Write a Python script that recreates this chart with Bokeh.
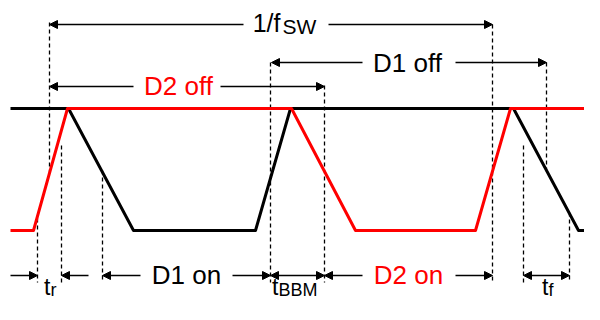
from bokeh.plotting import figure
from bokeh.models import Range1d, Arrow, NormalHead
from bokeh.core.properties import value
from bokeh.embed import file_html
from bokeh.resources import INLINE

# ---------------- data ----------------
# switch-node waveforms: vertices as (time, logic level); 1 = high, 0 = low
d2_t = [10, 33, 67, 291, 355, 475, 510, 600]
d2_v = [0, 0, 1, 1, 0, 0, 1, 1]
d1_t = [10, 68, 133, 255, 290, 513, 578, 600]
d1_v = [1, 1, 0, 0, 1, 1, 0, 0]

# timing marker instants
marker_t = [37, 49, 61, 102, 270, 324, 492, 523, 546, 569]

# labelled spans: (label, start, end)
span_label = ["1/f", "D2 off", "D1 off", "D1 on", "D2 on"]
span_start = [49, 49, 271, 102, 324]
span_end = [492, 324, 546, 270, 492]

# short intervals: rise time, break-before-make, fall time
tr_t = [37, 61]
tbbm_t = [270, 324]
tf_t = [523, 569]

# ---------------- layout helpers ----------------
HI_PX, LO_PX = 108, 230


def lvl(py):
    return (LO_PX - py) / (LO_PX - HI_PX)


TXT_DY = -10       # text rendering offset correction (pixels)


def tl(py):
    return lvl(py + TXT_DY)


RED = "#ff0000"
BLK = "#000000"
FONT = value("Liberation Sans")
BOT = 275          # bottom arrow row (pixel)

p = figure(width=584, height=304, x_range=Range1d(0, 584),
           y_range=Range1d(lvl(304), lvl(0)),
           output_backend="svg", toolbar_location=None,
           x_axis_location=None, y_axis_location=None,
           min_border=0, outline_line_color=None)
p.xgrid.visible = False
p.ygrid.visible = False
p.background_fill_color = "white"

# dashed marker lines (top/bottom pixel extents are layout)
dash_top = [218, 22, 145, 170, 62, 85, 24, 145, 62, 212]
dash_bot = [BOT + 7, 172, BOT + 7, BOT + 7, BOT + 7, BOT + 7, BOT + 7, BOT + 7, 171, BOT + 7]
p.segment(x0=marker_t, y0=[lvl(v) for v in dash_top],
          x1=marker_t, y1=[lvl(v) for v in dash_bot],
          line_color=BLK, line_width=1.3, line_dash="4 3")

# waveforms
p.line(d1_t, d1_v, line_color=BLK, line_width=3, line_join="round")
p.line(d2_t, d2_v, line_color=RED, line_width=3, line_join="round")


def arrow(x0, x1, ypx, both=False):
    head = dict(size=8, fill_color=BLK, line_color=BLK, line_width=1)
    p.add_layout(Arrow(x_start=x0, y_start=lvl(ypx), x_end=x1, y_end=lvl(ypx),
                       end=NormalHead(**head),
                       start=NormalHead(**head) if both else None,
                       line_color=BLK, line_width=1.3))


# labelled spans
row_px = [24, 86, 62, BOT, BOT]
label_cx = [270, 178, 407, 186, 408]
gap_l = [27, 45, 45, 46, 46]
gap_r = [58, 42, 48, 46, 47]
label_col = [BLK, RED, BLK, BLK, RED]
label_base = [32, 95, 72, BOT + 9, BOT + 9]
for lab, s, e, ry, cx, gl, gr, col, bl in zip(span_label, span_start, span_end, row_px,
                                             label_cx, gap_l, gap_r, label_col, label_base):
    arrow(cx - gl, s, ry)
    arrow(cx + gr, e, ry)
    if lab == "1/f":
        p.text(x=[cx + 10], y=[tl(bl)], text=[lab], text_align="right",
               text_baseline="alphabetic", text_font=FONT, text_font_size="25px",
               text_color=col)
        p.text(x=[cx + 12], y=[tl(bl + 4)], text=["SW"], text_align="left",
               text_baseline="alphabetic", text_font=FONT, text_font_size="21px",
               text_color=col)
    else:
        p.text(x=[cx], y=[tl(bl)], text=[lab], text_align="center",
               text_baseline="alphabetic", text_font=FONT, text_font_size="26px",
               text_color=col)

# rise time: inward arrows
arrow(10, tr_t[0], BOT)
arrow(88, tr_t[1], BOT)
# break-before-make and fall time: double arrows
arrow(tbbm_t[0], tbbm_t[1], BOT, both=True)
arrow(tf_t[0], tf_t[1], BOT, both=True)

# t-labels with subscripts
sub_x = [(tr_t[0] + tr_t[1]) / 2 + 1, tbbm_t[0] + 8, (tf_t[0] + tf_t[1]) / 2 + 2]
sub_txt = ["r", "BBM", "f"]
p.text(x=sub_x, y=[tl(BOT + 21)] * 3, text=["t"] * 3, text_align="right",
       text_baseline="alphabetic", text_font=FONT, text_font_size="23px",
       text_color=BLK)
p.text(x=sub_x, y=[tl(BOT + 24)] * 3, text=sub_txt, text_align="left",
       text_baseline="alphabetic", text_font=FONT, text_font_size="18px",
       text_color=BLK)

open("out.html", "w").write(file_html(p, INLINE))
